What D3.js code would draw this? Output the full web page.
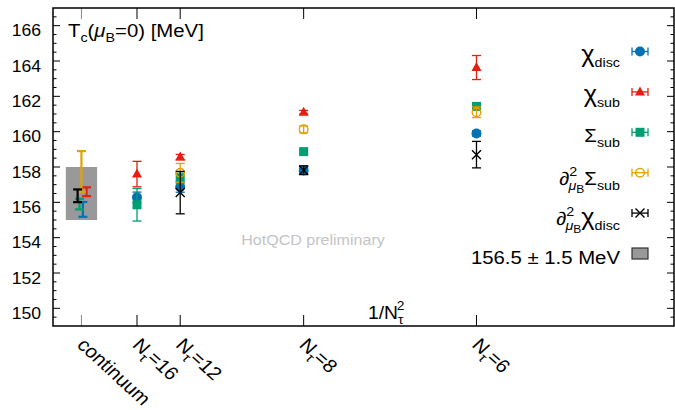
<!DOCTYPE html>
<html>
<head>
<meta charset="utf-8">
<script src="https://cdn.jsdelivr.net/npm/d3@7"></script>
<style>
body { margin: 0; background: #fff; }
svg { display: block; font-family: "Liberation Sans", Arial, Helvetica, sans-serif; }
</style>
</head>
<body>
<svg width="675" height="410"></svg>
<script>
// x axis is 1/Nt^2, continuum sits at 0
var tick_x = [0, 1/256, 1/144, 1/64, 1/36];
var tick_names = ["continuum", "16", "12", "8", "6"];

// points as [x, Tc, error], continuum ones are slightly shifted sideways
var chi_disc = [[0.0001, 155.6, 0.42], [1/256, 156.28, 0.3], [1/144, 156.87, 0.3], [1/64, 157.8, 0.15], [1/36, 159.9, 0.15]];
var chi_sub = [[0.00036, 156.6, 0.25], [1/256, 157.6, 0.72], [1/144, 158.56, 0.15], [1/64, 161.1, 0.1], [1/36, 163.63, 0.68]];
var sigma_sub = [[-0.00014, 155.9, 0.3], [1/256, 155.86, 0.92], [1/144, 157.35, 0.3], [1/64, 158.87, 0.1], [1/36, 161.43, 0.15]];
var d2_sigma_sub = [[0, 157.75, 1.15], [1/144, 157.67, 0.53], [1/64, 160.13, 0.2], [1/36, 161.1, 0.3]];
var d2_chi_disc = [[-0.00027, 156.37, 0.36], [1/144, 156.55, 1.2], [1/64, 157.82, 0.25], [1/36, 158.7, 0.75]];

// final estimate: 156.5 +- 1.5 MeV
var band = [156.5, 1.5];
var band_halfwidth = 0.0011;

var svg = d3.select("svg");
var mLeft = 53, mRight = 674, mTop = 8, mBottom = 326;
var sx = 1.1; // text in the reference is a bit wide

var x = d3.scaleLinear().domain([-0.002, 1/24]).range([mLeft, mRight]);
var y = d3.scaleLinear().domain([149, 167]).range([mBottom, mTop]);

function addText(g, px, py, anchor, size, rot) {
    return g.append("text")
        .attr("transform", "translate(" + px + "," + py + ") scale(" + sx + ",1)" + (rot ? " rotate(" + rot + ")" : ""))
        .attr("text-anchor", anchor)
        .style("font-size", size + "px");
}

// grey band for the final result
svg.append("rect")
    .attr("x", x(-band_halfwidth))
    .attr("y", y(band[0] + band[1]))
    .attr("width", x(band_halfwidth) - x(-band_halfwidth))
    .attr("height", y(band[0] - band[1]) - y(band[0] + band[1]))
    .attr("fill", "#999999");

// ticks
var ax = svg.append("g").attr("stroke", "#000").attr("stroke-width", 1);
var majors = d3.range(150, 167, 2);
var minors = d3.range(149.5, 167, 0.5).filter(function (v) { return v % 2 !== 0; });
majors.forEach(function (v) {
    ax.append("line").attr("x1", mLeft).attr("x2", mLeft + 7).attr("y1", y(v)).attr("y2", y(v));
    ax.append("line").attr("x1", mRight).attr("x2", mRight - 7).attr("y1", y(v)).attr("y2", y(v));
});
minors.forEach(function (v) {
    ax.append("line").attr("x1", mLeft).attr("x2", mLeft + 3.5).attr("y1", y(v)).attr("y2", y(v));
    ax.append("line").attr("x1", mRight).attr("x2", mRight - 3.5).attr("y1", y(v)).attr("y2", y(v));
});
tick_x.forEach(function (v, i) {
    var c = i === 0 ? "#888" : "#000";
    ax.append("line").attr("x1", x(v)).attr("x2", x(v)).attr("y1", mBottom).attr("y2", mBottom - 11).attr("stroke", c);
    ax.append("line").attr("x1", x(v)).attr("x2", x(v)).attr("y1", mTop).attr("y2", mTop + 11).attr("stroke", c);
});

// y tick labels
majors.forEach(function (v) {
    addText(svg, 41, y(v) + 10.5, "end", 16).text(v);
});

// x tick labels, rotated
tick_x.forEach(function (v, i) {
    var t = addText(svg, x(v) - 5.5, 346, "start", 18.5, 45);
    if (i === 0) {
        t.text(tick_names[i]);
    } else {
        t.append("tspan").text("N");
        t.append("tspan").text("τ").attr("dy", 5).style("font-size", "13px");
        t.append("tspan").text("=" + tick_names[i]).attr("dy", -5);
    }
});

// axis titles
var tl = addText(svg, 68, 37, "start", 18.5);
tl.append("tspan").text("T");
tl.append("tspan").text("c").attr("dy", 5).style("font-size", "13px");
tl.append("tspan").text("(").attr("dy", -5);
tl.append("tspan").text("μ").style("font-style", "italic");
tl.append("tspan").text("B").attr("dy", 5).style("font-size", "13px");
tl.append("tspan").text("=0) [MeV]").attr("dy", -5);

var xl = addText(svg, 368, 319, "start", 17.5);
xl.append("tspan").text("1/N");
xl.append("tspan").text("τ").attr("dy", 5).style("font-size", "12.5px");
xl.append("tspan").text("2").attr("dx", -6).attr("dy", -14).style("font-size", "12.5px");

addText(svg, 313, 245, "middle", 14.6).text("HotQCD preliminary").attr("fill", "#c4c4c4");

// markers
function marker(g, shape, color, cx, cy) {
    if (shape === "circle") {
        g.append("circle").attr("cx", cx).attr("cy", cy).attr("r", 5).attr("fill", color);
    } else if (shape === "triangle") {
        g.append("path").attr("d", "M" + cx + "," + (cy - 5.5) + "L" + (cx + 5) + "," + (cy + 3.5) + "L" + (cx - 5) + "," + (cy + 3.5) + "Z").attr("fill", color);
    } else if (shape === "square") {
        g.append("rect").attr("x", cx - 4.5).attr("y", cy - 4.5).attr("width", 9).attr("height", 9).attr("fill", color);
    } else if (shape === "open") {
        g.append("circle").attr("cx", cx).attr("cy", cy).attr("r", 4.3).attr("fill", "none").attr("stroke", color).attr("stroke-width", 1.4);
    } else if (shape === "cross") {
        g.append("path").attr("d", "M" + (cx - 4.5) + "," + (cy - 4.5) + "L" + (cx + 4.5) + "," + (cy + 4.5) + "M" + (cx - 4.5) + "," + (cy + 4.5) + "L" + (cx + 4.5) + "," + (cy - 4.5)).attr("stroke", color).attr("stroke-width", 1.4);
    }
}

var series = [
    { data: chi_disc, color: "#0072b2", shape: "circle", sym: "χ", sub: "disc", deriv: false },
    { data: chi_sub, color: "#e51e10", shape: "triangle", sym: "χ", sub: "sub", deriv: false },
    { data: sigma_sub, color: "#009e73", shape: "square", sym: "Σ", sub: "sub", deriv: false },
    { data: d2_sigma_sub, color: "#e69f00", shape: "open", sym: "Σ", sub: "sub", deriv: true },
    { data: d2_chi_disc, color: "#000000", shape: "cross", sym: "χ", sub: "disc", deriv: true }
];

var plot = svg.append("g");
series.forEach(function (s) {
    s.data.forEach(function (d) {
        var cont = Math.abs(d[0]) < 0.001;
        var px = x(d[0]), y0 = y(d[1] - d[2]), y1 = y(d[1] + d[2]);
        var g = plot.append("g").attr("stroke", s.color).attr("stroke-width", cont ? 2.2 : 1.3);
        g.append("line").attr("x1", px).attr("x2", px).attr("y1", y0).attr("y2", y1);
        g.append("line").attr("x1", px - 4.5).attr("x2", px + 4.5).attr("y1", y0).attr("y2", y0);
        g.append("line").attr("x1", px - 4.5).attr("x2", px + 4.5).attr("y1", y1).attr("y2", y1);
        if (!cont) marker(plot, s.shape, s.color, px, y(d[1]));
    });
});

// frame
svg.append("rect").attr("x", mLeft).attr("y", mTop).attr("width", mRight - mLeft).attr("height", mBottom - mTop)
    .attr("fill", "none").attr("stroke", "#000").attr("stroke-width", 1.5);

// legend
var lg = svg.append("g");
var rowY = function (i) { return 51.5 + i * 40.4; };
series.forEach(function (s, i) {
    var ry = rowY(i);
    var g = lg.append("g").attr("stroke", s.color).attr("stroke-width", 1.3);
    g.append("line").attr("x1", 632).attr("x2", 648).attr("y1", ry).attr("y2", ry);
    g.append("line").attr("x1", 632).attr("x2", 632).attr("y1", ry - 4).attr("y2", ry + 4);
    g.append("line").attr("x1", 648).attr("x2", 648).attr("y1", ry - 4).attr("y2", ry + 4);
    marker(lg, s.shape, s.color, 640, ry);

    var t = addText(lg, 620, ry + (s.deriv ? 12 : 10), "end", 18.5);
    if (s.deriv) {
        t.append("tspan").text("∂");
        t.append("tspan").text("2").attr("dy", -9).style("font-size", "13px");
        t.append("tspan").text("μ").attr("dx", -8).attr("dy", 14).style("font-size", "13px").style("font-style", "italic");
        t.append("tspan").text("B").attr("dy", 3).style("font-size", "11px");
        t.append("tspan").text(s.sym).attr("dy", -8).style("font-size", s.sym === "χ" ? "23px" : "18.5px");
    } else {
        t.append("tspan").text(s.sym).style("font-size", s.sym === "χ" ? "23px" : "18.5px");
    }
    t.append("tspan").text(s.sub).attr("dy", 5).style("font-size", "13px");
});
var by = rowY(5);
lg.append("rect").attr("x", 632).attr("y", by - 5.5).attr("width", 16).attr("height", 11)
    .attr("fill", "#999999").attr("stroke", "#333").attr("stroke-width", 1.2);
addText(lg, 620, by + 10, "end", 18.5).text("156.5 ± 1.5 MeV");
</script>
</body>
</html>
